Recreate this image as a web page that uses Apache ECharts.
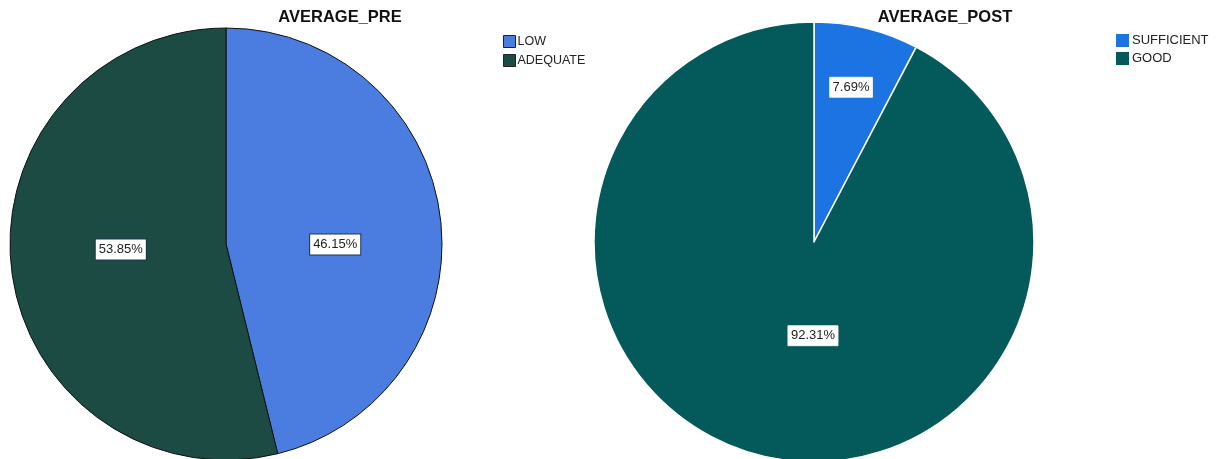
<!DOCTYPE html>
<html><head><meta charset="utf-8">
<script src="https://cdn.jsdelivr.net/npm/echarts@6/dist/echarts.min.js"></script>
<style>html,body{margin:0;padding:0;background:#fff}#c{width:1222px;height:459px}</style>
</head><body><div id="c"></div>
<script>
const preCategories = ['LOW', 'ADEQUATE'];
const preValues = [46.15, 53.85];
const postCategories = ['SUFFICIENT', 'GOOD'];
const postValues = [7.69, 92.31];
const titles = ['AVERAGE_PRE', 'AVERAGE_POST'];

const preColors = ['#4a7ddf', '#1b4b42'];
const postColors = ['#1b74e2', '#04595a'];
const FONT = '"Liberation Sans", Arial, sans-serif';

const labelBase = {
  show: true, position: 'inside',
  formatter: p => p.value.toFixed(2) + '%',
  backgroundColor: '#fff', color: '#222', fontFamily: FONT, fontSize: 13,
  padding: [4, 3, 3, 3]
};

const chart = echarts.init(document.getElementById('c'), null, {renderer: 'canvas'});
chart.setOption({
  backgroundColor: '#fff',
  animation: false,
  title: [
    {text: titles[0], left: 335, top: 4, textAlign: 'center',
     textStyle: {fontFamily: FONT, fontSize: 16.5, fontWeight: 'bold', color: '#111'}},
    {text: titles[1], left: 940, top: 4, textAlign: 'center',
     textStyle: {fontFamily: FONT, fontSize: 16.5, fontWeight: 'bold', color: '#111'}}
  ],
  legend: [
    {seriesIndex: 0, data: preCategories, orient: 'vertical', left: 498, top: 30,
     icon: 'rect', itemWidth: 12, itemHeight: 12, itemGap: 6,
     itemStyle: {borderColor: '#222', borderWidth: 1},
     textStyle: {fontFamily: FONT, fontSize: 12.5, color: '#222', padding: [0,0,0,-3]}},
    {seriesIndex: 1, data: postCategories, orient: 'vertical', left: 1111, top: 29,
     icon: 'rect', itemWidth: 13, itemHeight: 13, itemGap: 5,
     itemStyle: {borderWidth: 0},
     textStyle: {fontFamily: FONT, fontSize: 13, color: '#222', padding: [0,0,0,-2]}}
  ],
  series: [
    {
      type: 'pie', center: [226, 244], radius: 216, startAngle: 90, clockwise: true,
      silent: true,
      itemStyle: {borderColor: '#111', borderWidth: 1},
      label: Object.assign({}, labelBase, {borderColor: '#1a3550', borderWidth: 1}),
      labelLine: {show: false},
      data: preCategories.map((n, i) => ({name: n, value: preValues[i], itemStyle: {color: preColors[i]},
        label: i === 0 ? {offset: [-1, 14]} : {offset: [5, -8]}}))
    },
    {
      type: 'pie', center: [814, 242], radius: 220, startAngle: 90, clockwise: true,
      silent: true,
      itemStyle: {borderColor: '#fff', borderWidth: 1.5},
      label: Object.assign({}, labelBase, {borderColor: '#ddd', borderWidth: 0.5}),
      labelLine: {show: false},
      data: postCategories.map((n, i) => ({name: n, value: postValues[i], itemStyle: {color: postColors[i]},
        label: i === 0 ? {offset: [10, -45]} : {offset: [26, -16]}}))
    }
  ]
});
</script></body></html>
